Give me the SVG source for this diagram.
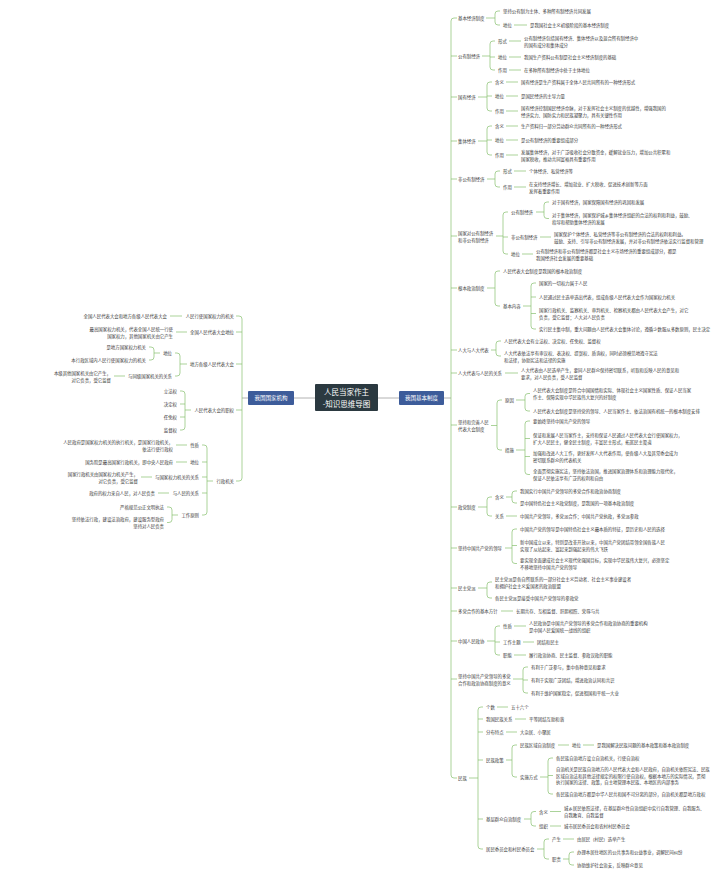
<svg xmlns="http://www.w3.org/2000/svg" width="720" height="878" viewBox="0 0 720 878">
<style>
.t{font-family:"Noto Sans CJK SC","Noto Sans",sans-serif;font-size:4.4px;fill:#3a3a3a;dominant-baseline:central}
.e{text-anchor:end}
.l{fill:none;stroke:#86c06f;stroke-width:0.7}
.g{fill:none;stroke:#a0a0a0;stroke-width:0.8}
.w{font-family:"Noto Sans CJK SC","Noto Sans",sans-serif;fill:#ffffff;text-anchor:middle;dominant-baseline:central}
</style>
<rect width="720" height="878" fill="#ffffff"/>
<g id="connectors">
<path class="g" d="M294,398 H315 M378,398 H399 M444,398 H451 M248,398 H242"/>
<!-- right spine -->
<path class="l" d="M457,18 H454 Q451,18 451,21 V775 Q451,778 454,778 H457 M451,56 H457 M451,97 H457 M451,141 H457 M451,179 H457 M451,236 H457 M451,288 H457 M451,350 H457 M451,373 H457 M451,425 H457 M451,507 H457 M451,548 H457 M451,588 H457 M451,611 H457 M451,641 H457 M451,679 H457"/>
<path class="l" d="M486,18 H495 M500,11 H498 Q495,11 495,14 V22 Q495,25 498,25 H500 M514,25 H527"/>
<path class="l" d="M482,56 H490 M495,41 H493 Q490,41 490,44 V67 Q490,70 493,70 H495 M490,57 H495 M509,41 H521 M509,57 H521 M509,70 H521"/>
<path class="l" d="M478,97 H487 M492,82 H490 Q487,82 487,85 V108 Q487,111 490,111 H492 M487,96 H492 M506,82 H518 M506,96 H518 M506,111 H518"/>
<path class="l" d="M478,141 H487 M492,126 H490 Q487,126 487,129 V152 Q487,155 490,155 H492 M487,140 H492 M506,126 H518 M506,140 H518 M506,155 H518"/>
<path class="l" d="M487,179 H495 M500,171 H498 Q495,171 495,174 V184 Q495,187 498,187 H500 M514,171 H526 M514,187 H526"/>
<path class="l" d="M496,236 H503 M508,212 H506 Q503,212 503,215 V251 Q503,254 506,254 H508 M503,237 H508 M536,212 H544 M549,202 H547 Q544,202 544,205 V215.5 Q544,218.5 547,218.5 H549 M540,237 H551 M522,254 H533"/>
<path class="l" d="M487,288 H495 M500,271 H498 Q495,271 495,274 V303 Q495,306 498,306 H500 M523,306 H531 M536,283 H534 Q531,283 531,286 V326 Q531,329 534,329 H536 M531,297 H536 M531,313.5 H536"/>
<path class="l" d="M491,350 H496 M501,341 H499 Q496,341 496,344 V353 Q496,356 499,356 H501"/>
<path class="l" d="M505,373 H518"/>
<path class="l" d="M491,425.5 H497 M502,400 H500 Q497,400 497,403 V447 Q497,450 500,450 H502 M516,400 H525 M530,393.5 H528 Q525,393.5 525,396.5 V408 Q525,411 528,411 H530 M516,450 H525 M530,421 H528 Q525,421 525,424 V471.5 Q525,474.5 528,474.5 H530 M525,438.5 H530 M525,456.5 H530"/>
<path class="l" d="M478,507 H487 M492,497 H490 Q487,497 487,500 V513 Q487,516 490,516 H492 M506,497 H512 M517,491 H515 Q512,491 512,494 V500 Q512,503 515,503 H517 M506,516 H517"/>
<path class="l" d="M505,548 H512 M517,529 H515 Q512,529 512,532 V560.5 Q512,563.5 515,563.5 H517 M512,545.5 H517"/>
<path class="l" d="M478,588 H487 M492,582 H490 Q487,582 487,585 V595 Q487,598 490,598 H492"/>
<path class="l" d="M501,611 H513"/>
<path class="l" d="M487,641 H495 M500,626 H498 Q495,626 495,629 V652 Q495,655 498,655 H500 M495,642 H500 M514,626 H526 M523,642 H534 M514,655 H526"/>
<path class="l" d="M513,679 H523 M528,667 H526 Q523,667 523,670 V690 Q523,693 526,693 H528 M523,680 H528"/>
<path class="l" d="M469,778 H478 M483,707 H481 Q478,707 478,710 V846 Q478,849 481,849 H483 M478,719 H483 M478,732 H483 M478,760 H483 M478,819 H483 M497,707 H508 M515,719 H526 M506,732 H517"/>
<path class="l" d="M506,760 H512 M517,745 H515 Q512,745 512,748 V774 Q512,777 515,777 H517 M558,745 H569 M583,745 H594 M540,777 H548 M553,758 H551 Q548,758 548,761 V791 Q548,794 551,794 H553 M548,775.5 H553"/>
<path class="l" d="M524,819 H531 M536,811.5 H534 Q531,811.5 531,814.5 V823 Q531,826 534,826 H536 M550,811.5 H561 M550,826 H561"/>
<path class="l" d="M537,849 H544 M549,839 H547 Q544,839 544,842 V856 Q544,859 547,859 H549 M563,839 H574 M563,859 H569 M574,852 H572 Q569,852 569,855 V862 Q569,865 572,865 H574"/>
<!-- left spine -->
<path class="l" d="M236,316 H239 Q242,316 242,319 V478 Q242,481 239,481 H236 M242,332 H236 M242,364 H236 M242,410 H236"/>
<path class="l" d="M182,316 H170 M187,332 H176"/>
<path class="l" d="M187,364 H180 M175,353 H177 Q180,353 180,356 V373 Q180,376 177,376 H175 M160,353 H154 M149,347 H151 Q154,347 154,350 V357 Q154,360 151,360 H149 M125,376 H114"/>
<path class="l" d="M191,410 H185 M180,391 H182 Q185,391 185,394 V427 Q185,430 182,430 H180 M185,404 H180 M185,417 H180"/>
<path class="l" d="M213,481 H207 M202,445 H204 Q207,445 207,448 V512 Q207,515 204,515 H202 M207,462 H202 M207,477 H202 M207,493 H202 M187,445 H176 M187,462 H176 M152,477 H141 M169,493 H158 M178,515 H172 M167,507 H169 Q172,507 172,510 V519.5 Q172,522.5 169,522.5 H167"/>
</g>

<g id="center"><rect x="315" y="384" width="63" height="27" rx="1" fill="#2b3940"/><text class="w" x="346.5" y="391.5" font-size="7.5">人民当家作主</text><text class="w" x="346.5" y="403.5" font-size="7.5">-知识思维导图</text></g>
<g id="left-root"><rect x="248" y="391" width="46" height="14" rx="1" fill="#3d5c9a"/><text class="w" x="271" y="398" font-size="5.5">我国国家机构</text></g>
<g id="right-root"><rect x="399" y="391" width="45" height="14" rx="1" fill="#3d5c9a"/><text class="w" x="421.5" y="398" font-size="5.5">我国基本制度</text></g>

<!-- RIGHT SIDE -->
<g id="r1"><text class="t" x="458" y="18">基本经济制度</text></g>
<g id="r1a"><text class="t" x="503" y="11">坚持公有制为主体、多种所有制经济共同发展</text></g>
<g id="r1b"><text class="t" x="503" y="25">地位</text></g>
<g id="r1b1"><text class="t" x="530" y="25">是我国社会主义初级阶段的基本经济制度</text></g>

<g id="r2"><text class="t" x="458" y="56">公有制经济</text></g>
<g id="r2a"><text class="t" x="498" y="41">形式</text></g>
<g id="r2a1"><text class="t" x="524" y="37.5">公有制经济包括国有经济、集体经济以及混合所有制经济中</text><text class="t" x="524" y="44.5">的国有成分和集体成分</text></g>
<g id="r2b"><text class="t" x="498" y="57">地位</text></g>
<g id="r2b1"><text class="t" x="524" y="57">我国生产资料公有制是社会主义经济制度的基础</text></g>
<g id="r2c"><text class="t" x="498" y="70">作用</text></g>
<g id="r2c1"><text class="t" x="524" y="70">在多种所有制经济中处于主体地位</text></g>

<g id="r3"><text class="t" x="458" y="97">国有经济</text></g>
<g id="r3a"><text class="t" x="495" y="82">含义</text></g>
<g id="r3a1"><text class="t" x="521" y="82">国有经济是生产资料属于全体人民共同所有的一种经济形式</text></g>
<g id="r3b"><text class="t" x="495" y="96">地位</text></g>
<g id="r3b1"><text class="t" x="521" y="96">是国民经济的主导力量</text></g>
<g id="r3c"><text class="t" x="495" y="111">作用</text></g>
<g id="r3c1"><text class="t" x="521" y="107.5">国有经济控制国民经济命脉，对于发挥社会主义制度的优越性，增强我国的</text><text class="t" x="521" y="114.5">经济实力、国防实力和民族凝聚力，具有关键性作用</text></g>

<g id="r4"><text class="t" x="458" y="141">集体经济</text></g>
<g id="r4a"><text class="t" x="495" y="126">含义</text></g>
<g id="r4a1"><text class="t" x="521" y="126">生产资料归一部分劳动群众共同所有的一种经济形式</text></g>
<g id="r4b"><text class="t" x="495" y="140">地位</text></g>
<g id="r4b1"><text class="t" x="521" y="140">是公有制经济的重要组成部分</text></g>
<g id="r4c"><text class="t" x="495" y="155">作用</text></g>
<g id="r4c1"><text class="t" x="521" y="151.5">发展集体经济，对于广泛吸收社会分散资金，缓解就业压力，增加公共积累和</text><text class="t" x="521" y="158.5">国家税收，推动共同富裕具有重要作用</text></g>

<g id="r5"><text class="t" x="458" y="179">非公有制经济</text></g>
<g id="r5a"><text class="t" x="503" y="171">形式</text></g>
<g id="r5a1"><text class="t" x="529" y="171">个体经济、私营经济等</text></g>
<g id="r5b"><text class="t" x="503" y="187">作用</text></g>
<g id="r5b1"><text class="t" x="529" y="183.5">在支持经济增长、增加就业、扩大税收、促进技术创新等方面</text><text class="t" x="529" y="190.5">发挥着重要作用</text></g>

<g id="r6"><text class="t" x="458" y="232.5">国家对公有制经济</text><text class="t" x="458" y="239.5">和非公有制经济</text></g>
<g id="r6a"><text class="t" x="511" y="212">公有制经济</text></g>
<g id="r6a1"><text class="t" x="552" y="202">对于国有经济，国家保障国有经济的巩固和发展</text></g>
<g id="r6a2"><text class="t" x="552" y="215">对于集体经济，国家保护城乡集体经济组织的合法的权利和利益，鼓励、</text><text class="t" x="552" y="222">指导和帮助集体经济的发展</text></g>
<g id="r6b"><text class="t" x="511" y="237">非公有制经济</text></g>
<g id="r6b1"><text class="t" x="554" y="233.5">国家保护个体经济、私营经济等非公有制经济的合法的权利和利益。</text><text class="t" x="554" y="240.5">鼓励、支持、引导非公有制经济发展，并对非公有制经济依法实行监督和管理</text></g>
<g id="r6c"><text class="t" x="511" y="254">地位</text></g>
<g id="r6c1"><text class="t" x="536" y="250.5">公有制经济和非公有制经济都是社会主义市场经济的重要组成部分，都是</text><text class="t" x="536" y="257.5">我国经济社会发展的重要基础</text></g>

<g id="r7"><text class="t" x="458" y="288">根本政治制度</text></g>
<g id="r7a"><text class="t" x="503" y="271">人民代表大会制度是我国的根本政治制度</text></g>
<g id="r7b"><text class="t" x="503" y="306">基本内容</text></g>
<g id="r7b1"><text class="t" x="539" y="283">国家的一切权力属于人民</text></g>
<g id="r7b2"><text class="t" x="539" y="297">人民通过民主选举选出代表，组成各级人民代表大会作为国家权力机关</text></g>
<g id="r7b3"><text class="t" x="539" y="310">国家行政机关、监察机关、审判机关、检察机关都由人民代表大会产生，对它</text><text class="t" x="539" y="317">负责，受它监督；人大对人民负责</text></g>
<g id="r7b4"><text class="t" x="539" y="329">实行民主集中制，重大问题由人民代表大会集体讨论，遵循少数服从多数原则，民主决定</text></g>

<g id="r8"><text class="t" x="458" y="350">人大与人大代表</text></g>
<g id="r8a"><text class="t" x="504" y="341">人民代表大会有立法权、决定权、任免权、监督权</text></g>
<g id="r8b"><text class="t" x="504" y="352.5">人大代表依法享有审议权、表决权、提案权、质询权，同时必须模范地遵守宪法</text><text class="t" x="504" y="359.5">和法律，协助宪法和法律的实施</text></g>

<g id="r9"><text class="t" x="458" y="373">人大代表与人民的关系</text></g>
<g id="r9a"><text class="t" x="521" y="369.5">人大代表由人民选举产生，要同人民群众保持密切联系，听取和反映人民的意见和</text><text class="t" x="521" y="376.5">要求，对人民负责，受人民监督</text></g>

<g id="r10"><text class="t" x="458" y="422">坚持和完善人民</text><text class="t" x="458" y="429">代表大会制度</text></g>
<g id="r10a"><text class="t" x="505" y="400">原因</text></g>
<g id="r10a1"><text class="t" x="533" y="390">人民代表大会制度是符合中国国情和实际、体现社会主义国家性质、保证人民当家</text><text class="t" x="533" y="397">作主、保障实现中华民族伟大复兴的好制度</text></g>
<g id="r10a2"><text class="t" x="533" y="411">人民代表大会制度是坚持党的领导、人民当家作主、依法治国有机统一的根本制度安排</text></g>
<g id="r10b"><text class="t" x="505" y="450">措施</text></g>
<g id="r10b1"><text class="t" x="533" y="421">要始终坚持中国共产党的领导</text></g>
<g id="r10b2"><text class="t" x="533" y="435">保证和发展人民当家作主，支持和保证人民通过人民代表大会行使国家权力，</text><text class="t" x="533" y="442">扩大人民民主，健全民主制度，丰富民主形式，拓宽民主渠道</text></g>
<g id="r10b3"><text class="t" x="533" y="453">加强和改进人大工作，更好发挥人大代表作用，使各级人大及其常委会成为</text><text class="t" x="533" y="460">密切联系群众的代表机关</text></g>
<g id="r10b4"><text class="t" x="533" y="471">全面贯彻实施宪法，坚持依法治国，推进国家治理体系和治理能力现代化，</text><text class="t" x="533" y="478">保证人民依法享有广泛的权利和自由</text></g>

<g id="r11"><text class="t" x="458" y="507">政党制度</text></g>
<g id="r11a"><text class="t" x="495" y="497">含义</text></g>
<g id="r11a1"><text class="t" x="520" y="491">我国实行中国共产党领导的多党合作和政治协商制度</text></g>
<g id="r11a2"><text class="t" x="520" y="503">是中国特色社会主义政党制度，是我国的一项基本政治制度</text></g>
<g id="r11b"><text class="t" x="495" y="516">关系</text></g>
<g id="r11b1"><text class="t" x="520" y="516">中国共产党领导，多党派合作；中国共产党执政，多党派参政</text></g>

<g id="r12"><text class="t" x="458" y="548">坚持中国共产党的领导</text></g>
<g id="r12a"><text class="t" x="520" y="529">中国共产党的领导是中国特色社会主义最本质的特征，是历史和人民的选择</text></g>
<g id="r12b"><text class="t" x="520" y="542">新中国成立以来，特别是改革开放以来，中国共产党团结带领全国各族人民</text><text class="t" x="520" y="549">实现了从站起来、富起来到强起来的伟大飞跃</text></g>
<g id="r12c"><text class="t" x="520" y="560">要实现全面建成社会主义现代化强国目标，实现中华民族伟大复兴，必须坚定</text><text class="t" x="520" y="567">不移地坚持中国共产党的领导</text></g>

<g id="r13"><text class="t" x="458" y="588">民主党派</text></g>
<g id="r13a"><text class="t" x="495" y="578.5">民主党派是各自所联系的一部分社会主义劳动者、社会主义事业建设者</text><text class="t" x="495" y="585.5">和拥护社会主义爱国者的政治联盟</text></g>
<g id="r13b"><text class="t" x="495" y="598">各民主党派是接受中国共产党领导的参政党</text></g>

<g id="r14"><text class="t" x="458" y="611">多党合作的基本方针</text></g>
<g id="r14a"><text class="t" x="516" y="611">长期共存、互相监督、肝胆相照、荣辱与共</text></g>

<g id="r15"><text class="t" x="458" y="641">中国人民政协</text></g>
<g id="r15a"><text class="t" x="503" y="626">性质</text></g>
<g id="r15a1"><text class="t" x="529" y="622.5">人民政协是中国共产党领导的多党合作和政治协商的重要机构</text><text class="t" x="529" y="629.5">是中国人民爱国统一战线的组织</text></g>
<g id="r15b"><text class="t" x="503" y="642">工作主题</text></g>
<g id="r15b1"><text class="t" x="537" y="642">团结和民主</text></g>
<g id="r15c"><text class="t" x="503" y="655">职能</text></g>
<g id="r15c1"><text class="t" x="529" y="655">履行政治协商、民主监督、参政议政的职能</text></g>

<g id="r16"><text class="t" x="458" y="675.5">坚持中国共产党领导的多党</text><text class="t" x="458" y="682.5">合作和政治协商制度的意义</text></g>
<g id="r16a"><text class="t" x="531" y="667">有利于广泛参与，集中各种意见和要求</text></g>
<g id="r16b"><text class="t" x="531" y="680">有利于实现广泛团结，增进政治认同和共识</text></g>
<g id="r16c"><text class="t" x="531" y="693">有利于维护国家稳定，促进祖国和平统一大业</text></g>

<g id="r17"><text class="t" x="458" y="778">民族</text></g>
<g id="r17a"><text class="t" x="486" y="707">个数</text></g>
<g id="r17a1"><text class="t" x="511" y="707">五十六个</text></g>
<g id="r17b"><text class="t" x="486" y="719">我国民族关系</text></g>
<g id="r17b1"><text class="t" x="529" y="719">平等团结互助和谐</text></g>
<g id="r17c"><text class="t" x="486" y="732">分布特点</text></g>
<g id="r17c1"><text class="t" x="520" y="732">大杂居、小聚居</text></g>
<g id="r17d"><text class="t" x="486" y="760">民族政策</text></g>
<g id="r17d1"><text class="t" x="520" y="745">民族区域自治制度</text></g>
<g id="r17d1a"><text class="t" x="572" y="745">地位</text></g>
<g id="r17d1b"><text class="t" x="597" y="745">是我国解决民族问题的基本政策和基本政治制度</text></g>
<g id="r17d2"><text class="t" x="520" y="777">实施方式</text></g>
<g id="r17d2a"><text class="t" x="556" y="758">各民族自治地方设立自治机关，行使自治权</text></g>
<g id="r17d2b"><text class="t" x="556" y="769">自治机关是民族自治地方的人民代表大会和人民政府，自治机关依照宪法、民族</text><text class="t" x="556" y="775.5">区域自治法和其他法律规定的权限行使自治权，根据本地方的实际情况，贯彻</text><text class="t" x="556" y="782">执行国家的法律、政策，自主地管理本民族、本地区的内部事务</text></g>
<g id="r17d2c"><text class="t" x="556" y="794">各民族自治地方都是中华人民共和国不可分离的部分，自治机关都是地方政权</text></g>
<g id="r17e"><text class="t" x="486" y="819">基层群众自治制度</text></g>
<g id="r17e1"><text class="t" x="539" y="811.5">含义</text></g>
<g id="r17e1a"><text class="t" x="564" y="808">城乡居民依照法律，在基层群众性自治组织中实行自我管理、自我服务、</text><text class="t" x="564" y="815">自我教育、自我监督</text></g>
<g id="r17e2"><text class="t" x="539" y="826">组织</text></g>
<g id="r17e2a"><text class="t" x="564" y="826">城市居民委员会和农村村民委员会</text></g>
<g id="r17f"><text class="t" x="486" y="849">居民委员会和村民委员会</text></g>
<g id="r17f1"><text class="t" x="552" y="839">产生</text></g>
<g id="r17f1a"><text class="t" x="577" y="839">由居民（村民）选举产生</text></g>
<g id="r17f2"><text class="t" x="552" y="859">职责</text></g>
<g id="r17f2a"><text class="t" x="577" y="852">办理本居住地区的公共事务和公益事业，调解民间纠纷</text></g>
<g id="r17f2b"><text class="t" x="577" y="865">协助维护社会治安，反映群众意见</text></g>

<!-- LEFT SIDE -->
<g id="l1"><text class="t e" x="234" y="316">人民行使国家权力的机关</text></g>
<g id="l1a"><text class="t e" x="167" y="316">全国人民代表大会和地方各级人民代表大会</text></g>
<g id="l2"><text class="t e" x="234" y="332">全国人民代表大会地位</text></g>
<g id="l2a"><text class="t e" x="173" y="328.5">最高国家权力机关，代表全国人民统一行使</text><text class="t e" x="173" y="335.5">国家权力，其他国家机关由它产生</text></g>
<g id="l3"><text class="t e" x="234" y="364">地方各级人民代表大会</text></g>
<g id="l3a"><text class="t e" x="172" y="353">地位</text></g>
<g id="l3a1"><text class="t e" x="146" y="347">是地方国家权力机关</text></g>
<g id="l3a2"><text class="t e" x="146" y="360">本行政区域内人民行使国家权力的机关</text></g>
<g id="l3b"><text class="t e" x="172" y="376">与同级国家机关的关系</text></g>
<g id="l3b1"><text class="t e" x="111" y="372.5">本级其他国家机关由它产生，</text><text class="t e" x="111" y="379.5">对它负责，受它监督</text></g>
<g id="l4"><text class="t e" x="234" y="410">人民代表大会的职权</text></g>
<g id="l4a"><text class="t e" x="177" y="391">立法权</text></g>
<g id="l4b"><text class="t e" x="177" y="404">决定权</text></g>
<g id="l4c"><text class="t e" x="177" y="417">任免权</text></g>
<g id="l4d"><text class="t e" x="177" y="430">监督权</text></g>
<g id="l5"><text class="t e" x="234" y="481">行政机关</text></g>
<g id="l5a"><text class="t e" x="199" y="445">性质</text></g>
<g id="l5a1"><text class="t e" x="173" y="441.5">人民政府是国家权力机关的执行机关，是国家行政机关，</text><text class="t e" x="173" y="448.5">依法行使行政权</text></g>
<g id="l5b"><text class="t e" x="199" y="462">地位</text></g>
<g id="l5b1"><text class="t e" x="173" y="462">国务院是最高国家行政机关，即中央人民政府</text></g>
<g id="l5c"><text class="t e" x="199" y="477">与国家权力机关的关系</text></g>
<g id="l5c1"><text class="t e" x="138" y="473.5">国家行政机关由国家权力机关产生，</text><text class="t e" x="138" y="480.5">对它负责，受它监督</text></g>
<g id="l5d"><text class="t e" x="199" y="493">与人民的关系</text></g>
<g id="l5d1"><text class="t e" x="155" y="493">政府的权力来自人民，对人民负责</text></g>
<g id="l5e"><text class="t e" x="199" y="515">工作原则</text></g>
<g id="l5e1"><text class="t e" x="164" y="507">严格规范公正文明执法</text></g>
<g id="l5e2"><text class="t e" x="164" y="519">坚持依法行政，建设法治政府，建设服务型政府</text><text class="t e" x="164" y="526">坚持对人民负责</text></g>
</svg>
